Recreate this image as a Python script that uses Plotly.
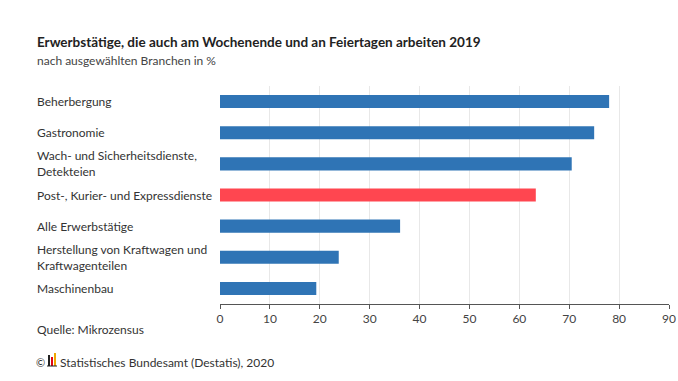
import plotly.graph_objects as go

categories = [
    "Beherbergung",
    "Gastronomie",
    "Wach- und Sicherheitsdienste,<br>Detekteien",
    "Post-, Kurier- und Expressdienste",
    "Alle Erwerbstätige",
    "Herstellung von Kraftwagen und<br>Kraftwagenteilen",
    "Maschinenbau",
]
values = [78.0, 75.0, 70.5, 63.3, 36.1, 23.8, 19.3]
highlight = "Post-, Kurier- und Expressdienste"
tick_vals = [0, 10, 20, 30, 40, 50, 60, 70, 80, 90]

FONT = "Lato, Noto Sans, sans-serif"
BLUE = "#2f74b5"
RED = "#ff4650"

colors = [RED if c == highlight else BLUE for c in categories]
ids = list(range(len(categories)))

W, H = 678, 381
L, R, T, B = 220, 9, 86, 77
PW, PH = W - L - R, H - T - B


def px(x):
    return (x - L) / PW


def py(y):
    return (H - B - y) / PH


fig = go.Figure()
fig.add_trace(go.Bar(
    x=values, y=ids, orientation="h",
    marker=dict(color=colors, line=dict(width=0)),
    width=0.42, hoverinfo="skip",
))

for i, c in zip(ids, categories):
    fig.add_annotation(
        x=px(35), xref="paper", y=i, yref="y",
        text=c, showarrow=False, xanchor="left", yanchor="middle",
        align="left", font=dict(family=FONT, size=12, color="#333333"),
    )

fig.update_layout(
    width=W, height=H,
    margin=dict(l=L, r=R, t=T, b=B, autoexpand=False),
    paper_bgcolor="white", plot_bgcolor="white",
    showlegend=False,
    xaxis=dict(
        range=[0, 90], tickvals=tick_vals, showgrid=True, gridcolor="#e8e8e8", gridwidth=1,
        zeroline=False, showline=True, linecolor="#555555", linewidth=1,
        ticks="outside", ticklen=4, tickcolor="#555555", automargin=False,
        tickfont=dict(family=FONT, size=12, color="#444444"),
    ),
    yaxis=dict(
        range=[len(categories) - 0.5, -0.5], showticklabels=False, showgrid=False,
        zeroline=False, showline=False, automargin=False,
    ),
)

fig.add_annotation(x=px(35), y=py(42), xref="paper", yref="paper", xanchor="left", yanchor="middle",
                   text="<b>Erwerbstätige, die auch am Wochenende und an Feiertagen arbeiten 2019</b>",
                   showarrow=False, font=dict(family=FONT, size=13.5, color="#222222"))
fig.add_annotation(x=px(35), y=py(60), xref="paper", yref="paper", xanchor="left", yanchor="middle",
                   text="nach ausgewählten Branchen in %",
                   showarrow=False, font=dict(family=FONT, size=12, color="#444444"))
fig.add_annotation(x=px(35), y=py(329), xref="paper", yref="paper", xanchor="left", yanchor="middle",
                   text="Quelle: Mikrozensus",
                   showarrow=False, font=dict(family=FONT, size=12, color="#333333"))
fig.add_annotation(x=px(34), y=py(362), xref="paper", yref="paper", xanchor="left", yanchor="middle",
                   text="©",
                   showarrow=False, font=dict(family=FONT, size=11, color="#333333"))
fig.add_annotation(x=px(58), y=py(362), xref="paper", yref="paper", xanchor="left", yanchor="middle",
                   text="Statistisches Bundesamt (Destatis), 2020",
                   showarrow=False, font=dict(family=FONT, size=12, color="#333333"))

# small logo
logo = [(48, 50, 355, "#222222"), (51, 53, 357, "#e30613"), (54, 56, 353, "#f0a800")]
for x0, x1, ytop, col in logo:
    fig.add_shape(type="rect", xref="paper", yref="paper", x0=px(x0), x1=px(x1), y0=py(366), y1=py(ytop),
                  fillcolor=col, line=dict(width=0))
fig.add_shape(type="line", xref="paper", yref="paper", x0=px(47), x1=px(57), y0=py(366), y1=py(366),
              line=dict(color="#222222", width=1))

fig.write_html("out.html", config={"displayModeBar": False},
               post_script="document.body.style.margin='0';")
